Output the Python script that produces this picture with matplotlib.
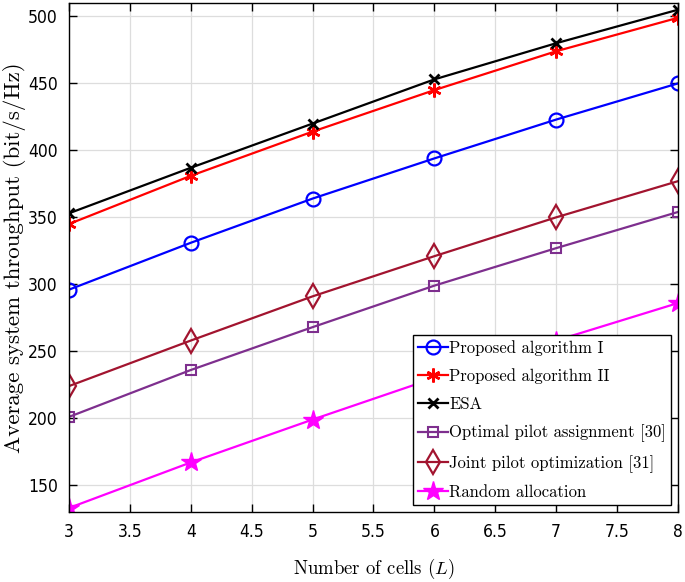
import matplotlib

matplotlib.use("Agg")
import matplotlib.pyplot as plt

plt.rcParams["mathtext.fontset"] = "cm"
plt.rcParams["font.family"] = ["cmr10", "DejaVu Serif"]
plt.rcParams["axes.unicode_minus"] = False

cells = [3, 4, 5, 6, 7, 8]
proposed_1 = [296, 331, 364, 394, 423, 450]
proposed_2 = [345, 381, 414, 445, 474, 499]
esa = [353, 387, 420, 453, 480, 505]
optimal_30 = [201, 236, 268, 299, 327, 354]
joint_31 = [224, 258, 291, 321, 350, 377]
random_alloc = [133, 167, 199, 230, 258, 286]

x_ticks = [3, 3.5, 4, 4.5, 5, 5.5, 6, 6.5, 7, 7.5, 8]
y_ticks = [150, 200, 250, 300, 350, 400, 450, 500]

fig = plt.figure(figsize=(6.85, 5.82), dpi=100)
ax = fig.add_axes([0.1007, 0.1203, 0.8891, 0.8745])

lw = 1.6
ax.plot(cells, proposed_1, color="#0000ff", marker="o", ms=10, mfc="none", mew=1.6, lw=lw,
        label="Proposed algorithm I")
ax.plot(cells, proposed_2, color="#ff0000", marker=(6, 2, 0), ms=10, mew=1.8, lw=lw,
        label="Proposed algorithm II")
ax.plot(cells, esa, color="black", marker="x", ms=7, mew=2.0, lw=lw, label="ESA")
ax.plot(cells, optimal_30, color="#7e2f8e", marker="s", ms=7, mfc="none", mew=1.5, lw=lw,
        label="Optimal pilot assignment [30]")
ax.plot(cells, joint_31, color="#a2142f", marker="d", ms=12, mfc="none", mew=1.6, lw=lw,
        label="Joint pilot optimization [31]")
ax.plot(cells, random_alloc, color="#ff00ff", marker="*", ms=15, lw=lw,
        label="Random allocation")

ax.set_xlim(3, 8)
ax.set_ylim(130, 510)
ax.set_xticks(x_ticks)
ax.set_yticks(y_ticks)
tick_font = dict(family="DejaVu Sans", stretch="condensed", fontsize=12.5)
ax.set_xticklabels([f"{v:g}" for v in x_ticks], **tick_font)
ax.set_yticklabels([str(v) for v in y_ticks], **tick_font)
ax.tick_params(direction="in", length=6, width=1, top=True, right=True, pad=8)
ax.grid(True, color="#dddddd", lw=0.9)
for s in ax.spines.values():
    s.set_linewidth(1.0)

ax.set_xlabel("Number of cells ($L$)", fontsize=13.5, labelpad=11)
ax.set_ylabel("Average system throughput (bit/s/Hz)", fontsize=16.5)
ax.yaxis.set_label_coords(-0.071, 0.5)

leg = ax.legend(loc="lower right", fontsize=12, frameon=True, fancybox=False, edgecolor="black",
                framealpha=1, handlelength=1.8, handletextpad=0.1, borderpad=0.3,
                labelspacing=0.75, borderaxespad=0.4)
leg.get_frame().set_linewidth(1.0)

fig.savefig("out.png", dpi=100)
